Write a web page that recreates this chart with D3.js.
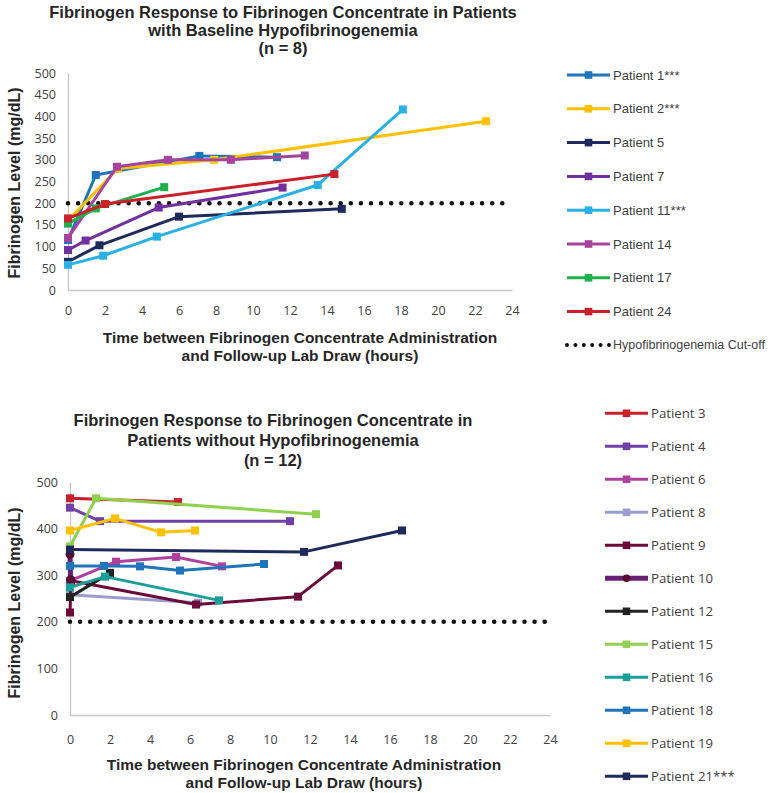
<!DOCTYPE html>
<html><head><meta charset="utf-8">
<script src="https://cdn.jsdelivr.net/npm/d3@7"></script>
<style>body{margin:0;background:#fff}</style></head>
<body><svg id="c" width="771" height="793"></svg>
<script>
// ---------- DATA ----------
const xTicks = [0,2,4,6,8,10,12,14,16,18,20,22,24];
const topYTicks = [0,50,100,150,200,250,300,350,400,450,500];
const botYTicks = [0,100,200,300,400,500];
const cutoff = 200;

// Panel 1: baseline hypofibrinogenemia [hours, mg/dL]
const topNames = ["Patient 1***","Patient 2***","Patient 5","Patient 7","Patient 11***","Patient 14","Patient 17","Patient 24"];
const p1  = [[0,115],[1.5,265],[7.1,309],[11.3,306]];
const p2  = [[0,160],[2.7,280],[7.9,300],[22.6,389]];
const p5  = [[0,65],[1.7,103],[6.0,169],[14.8,187]];
const p7  = [[0,92],[0.95,114],[4.9,190],[11.6,236]];
const p11 = [[0,58],[1.9,79],[4.8,123],[13.5,242],[18.1,416]];
const p14 = [[0,120],[2.65,284],[5.4,300],[8.8,300],[12.8,310]];
const p17 = [[0,153],[1.5,188],[5.2,237]];
const p24 = [[0,165],[2.0,198],[14.4,267]];
const topValues = [p1,p2,p5,p7,p11,p14,p17,p24];

// Panel 2: without hypofibrinogenemia
const botNames = ["Patient 3","Patient 4","Patient 6","Patient 8","Patient 9","Patient 10","Patient 12","Patient 15","Patient 16","Patient 18","Patient 19","Patient 21***"];
const p3  = [[0,465],[5.4,457]];
const p4  = [[0,445],[1.5,416],[11.0,416]];
const p6  = [[0,288],[2.3,329],[5.3,339],[7.6,319]];
const p8  = [[0,258],[6.4,241]];
const p9  = [[0,220],[0.05,288],[6.3,237],[11.4,254],[13.4,321]];
const p10 = [[0,345],[0.03,290]];
const p12 = [[0,253],[2.0,305]];
const p15 = [[0,362],[1.3,465],[12.3,431]];
const p16 = [[0,274],[1.75,297],[7.45,246]];
const p18 = [[0,320],[1.7,320],[3.5,319],[5.5,310],[9.7,324]];
const p19 = [[0,396],[2.25,422],[4.55,392],[6.25,396]];
const p21 = [[0,355],[11.7,350],[16.6,396]];
const botValues = [p3,p4,p6,p8,p9,p10,p12,p15,p16,p18,p19,p21];

// ---------- STYLES ----------
const topColors = ["#1f74ba","#ffc000","#1f2a5c","#7030a0","#2bb0e6","#a5449e","#1db04b","#c9202a"];
const botColors = ["#c9202a","#7040a8","#b040a0","#9b9bd0","#6b0a3a","#6a2070","#222222","#92d050","#1a9e9a","#1f74ba","#ffc000","#1f2a5c"];
const titleFont = "'Liberation Sans', Arial, sans-serif";
const tickFont = "'Open Sans', sans-serif";
const dark = "#262626";

const svg = d3.select("#c");

function panel(cfg){
  const x = d3.scaleLinear().domain([0,24]).range([cfg.x0, cfg.x1]);
  const y = d3.scaleLinear().domain([0,500]).range([cfg.y0, cfg.y1]);
  const g = svg.append("g");

  // titles
  cfg.title.forEach((t,i)=>{
    g.append("text").attr("x",cfg.tx).attr("y",cfg.ty + i*cfg.tlh)
      .attr("text-anchor","middle").attr("font-family",titleFont).attr("font-weight","bold")
      .attr("font-size",16.5).attr("fill",dark).text(t);
  });

  // axes
  const ya = g.append("g").attr("transform",`translate(${cfg.x0},0)`)
    .call(d3.axisLeft(y).tickValues(cfg.yTicks).tickSize(0).tickSizeOuter(0).tickPadding(12));
  ya.select(".domain").attr("stroke","#c8c8c8").attr("stroke-width",1.3);
  ya.selectAll("text").attr("font-family",tickFont).attr("font-size",12.5).attr("fill","#404040");

  const xa = g.append("g").attr("transform",`translate(0,${cfg.y0})`)
    .call(d3.axisBottom(x).tickValues(xTicks).tickSize(0).tickSizeOuter(0).tickPadding(cfg.xpad));
  xa.select(".domain").attr("stroke","#c8c8c8").attr("stroke-width",1.3);
  xa.selectAll("text").attr("font-family",tickFont).attr("font-size",12.5).attr("fill","#404040");

  // axis titles
  g.append("text").attr("transform",`translate(${cfg.yTitleX},${cfg.yTitleY}) rotate(-90)`)
    .attr("text-anchor","middle").attr("font-family",titleFont).attr("font-weight","bold")
    .attr("font-size",16).attr("fill",dark).text("Fibrinogen Level (mg/dL)");
  ["Time between Fibrinogen Concentrate Administration","and Follow-up Lab Draw (hours)"].forEach((t,i)=>{
    g.append("text").attr("x",cfg.xTitleX).attr("y",cfg.xTitleY + i*cfg.xlh)
      .attr("text-anchor","middle").attr("font-family",titleFont).attr("font-weight","bold")
      .attr("font-size",15.5).attr("fill",dark).text(t);
  });

  // cutoff
  g.append("line").attr("x1",x(0)).attr("x2",x(24)).attr("y1",y(cutoff)).attr("y2",y(cutoff))
    .attr("stroke","#111").attr("stroke-width",4.6).attr("stroke-linecap","round")
    .attr("stroke-dasharray","0 10.1");

  // series
  const line = d3.line().x(d=>x(d[0])).y(d=>y(d[1]));
  cfg.values.forEach((s,i)=>{
    const col = cfg.colors[i];
    const isCircle = cfg.circle === i;
    g.append("path").datum(s).attr("d",line).attr("fill","none").attr("stroke",col)
      .attr("stroke-width", isCircle ? 5 : 3).attr("stroke-linejoin","round");
    if (isCircle){
      g.selectAll(null).data(s).enter().append("circle")
        .attr("cx",d=>x(d[0])).attr("cy",d=>y(d[1])).attr("r",4.5).attr("fill","#5a0a30");
    } else {
      const m = cfg.ms;
      g.selectAll(null).data(s).enter().append("rect")
        .attr("x",d=>x(d[0])-m/2).attr("y",d=>y(d[1])-m/2).attr("width",m).attr("height",m)
        .attr("fill",col);
    }
  });

  // legend
  cfg.names.forEach((n,i)=>{
    const ly = cfg.ly0 + i*cfg.ldy;
    const col = cfg.colors[i];
    const isCircle = cfg.circle === i;
    g.append("line").attr("x1",cfg.lx).attr("x2",cfg.lx+43).attr("y1",ly).attr("y2",ly)
      .attr("stroke",col).attr("stroke-width",isCircle?5:3);
    if (isCircle) g.append("circle").attr("cx",cfg.lx+21.5).attr("cy",ly).attr("r",3.8).attr("fill","#5a0a30");
    else g.append("rect").attr("x",cfg.lx+21.5-3.8).attr("y",ly-3.8).attr("width",7.6).attr("height",7.6).attr("fill",col);
    g.append("text").attr("x",cfg.lx+46).attr("y",ly).attr("dy","0.35em")
      .attr("font-family",cfg.lfont).attr("font-size",cfg.lsize).attr("fill","#404040").text(n);
  });
}

panel({
  x0:68, x1:512, y0:290, y1:73,
  yTicks: topYTicks, xpad:16,
  title:["Fibrinogen Response to Fibrinogen Concentrate in Patients","with Baseline Hypofibrinogenemia","(n = 8)"],
  tx:283, ty:18, tlh:18,
  yTitleX:20, yTitleY:183, xTitleX:300, xTitleY:343, xlh:18,
  values: topValues, colors: topColors, names: topNames, ms:8,
  lx:567, ly0:75, ldy:33.8, lfont:titleFont, lsize:13
});

// cutoff legend entry
svg.append("line").attr("x1",567).attr("x2",609).attr("y1",345).attr("y2",345)
  .attr("stroke","#111").attr("stroke-width",4).attr("stroke-linecap","round").attr("stroke-dasharray","0 8.4");
svg.append("text").attr("x",613).attr("y",345).attr("dy","0.35em")
  .attr("font-family",titleFont).attr("font-size",12.5).attr("fill","#404040").text("Hypofibrinogenemia Cut-off");

panel({
  x0:70, x1:550, y0:715, y1:482,
  yTicks: botYTicks, xpad:20,
  title:["Fibrinogen Response to Fibrinogen Concentrate in","Patients without Hypofibrinogenemia","(n = 12)"],
  tx:273, ty:426, tlh:20,
  yTitleX:20, yTitleY:603, xTitleX:304, xTitleY:770, xlh:17.5,
  values: botValues, colors: botColors, names: botNames, ms:8, circle:5,
  lx:605, ly0:413.3, ldy:33.0, lfont:tickFont, lsize:13.2
});
</script>
</body></html>
